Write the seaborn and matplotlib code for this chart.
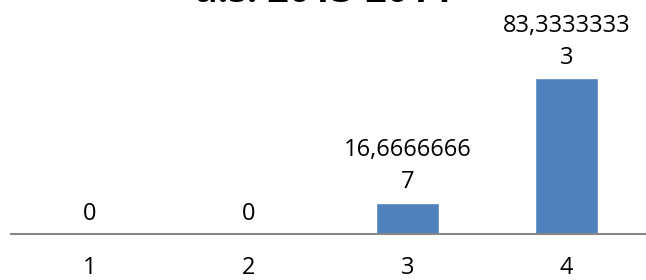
import numpy as np
import pandas as pd
import seaborn as sns
import matplotlib
matplotlib.use("Agg")
import matplotlib.pyplot as plt

# data
categories = ["1", "2", "3", "4"]
values = [0, 0, 16.6666667, 83.3333333]
value_labels = ["0", "0", "16,6666666\n7", "83,3333333\n3"]
title_text = "a.s. 2013-2014"

sns.set_style("white")
plt.rcParams["font.family"] = ["Open Sans", "DejaVu Sans"]

df = pd.DataFrame({"cat": categories, "val": values})

fig = plt.figure(figsize=(6.46, 2.80), dpi=100)
ax = fig.add_axes([10.5 / 646, 1 - 234 / 280, 1 - 10.5 / 646, (234 - 47) / 280])

sns.barplot(data=df, x="cat", y="val", color="#4F81BD", saturation=1,
            width=0.4, ax=ax)

ax.set_ylim(0, 100)
ax.set_xlim(-0.5, 3.5)
ax.set_xlabel("")
ax.set_ylabel("")
ax.set_yticks([])

for side in ["top", "right", "left"]:
    ax.spines[side].set_visible(False)
ax.spines["bottom"].set_color("#868686")
ax.spines["bottom"].set_linewidth(1.5)

ax.tick_params(axis="x", length=0, pad=15.5, labelsize=17, labelcolor="black")

lbls = ax.bar_label(ax.containers[0], labels=value_labels, padding=6,
                    fontsize=17, color="black")
for t in lbls:
    t.set_linespacing(1.45)
    t.set_clip_on(False)

# title is cut off by the top edge in the original
fig.text(0.5, 1 - 2 / 280, title_text, ha="center", va="baseline",
         fontsize=27, fontweight="bold", color="black")

fig.savefig("out.png", dpi=100)
